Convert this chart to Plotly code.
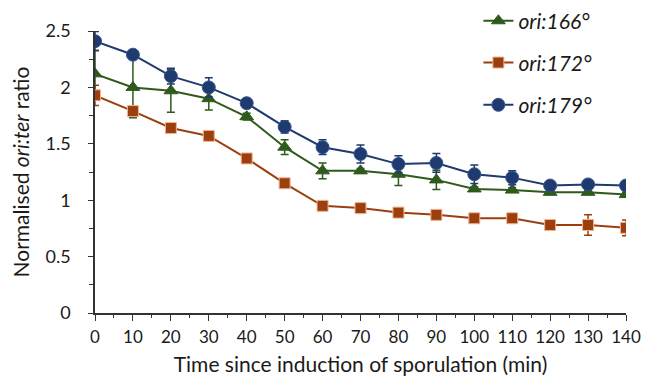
import plotly.graph_objects as go

time_min = [0, 10, 20, 30, 40, 50, 60, 70, 80, 90, 100, 110, 120, 130, 140]

ori166 = [2.12, 2.00, 1.97, 1.90, 1.74, 1.47, 1.26, 1.26, 1.23, 1.18, 1.10, 1.09, 1.07, 1.07, 1.05]
ori166_err = [0.21, 0.27, 0.19, 0.10, 0.03, 0.065, 0.07, 0.02, 0.10, 0.085, 0.02, 0.02, 0.02, 0.02, 0.02]

ori172 = [1.93, 1.79, 1.64, 1.57, 1.37, 1.15, 0.95, 0.93, 0.89, 0.87, 0.84, 0.84, 0.78, 0.78, 0.755]
ori172_err = [0.09, 0.02, 0.02, 0.02, 0.02, 0.02, 0.03, 0.02, 0.02, 0.02, 0.02, 0.02, 0.03, 0.09, 0.07]

ori179 = [2.41, 2.29, 2.10, 2.00, 1.86, 1.65, 1.47, 1.41, 1.32, 1.33, 1.23, 1.20, 1.13, 1.14, 1.13]
ori179_err = [0.085, 0.02, 0.07, 0.085, 0.04, 0.055, 0.065, 0.08, 0.075, 0.083, 0.083, 0.062, 0.02, 0.02, 0.02]

series_names = ["<i>ori:166°</i>", "<i>ori:172°</i>", "<i>ori:179°</i>"]
y_ticks = [0, 0.5, 1, 1.5, 2, 2.5]
y_tick_text = ["0", "0.5", "1", "1.5", "2", "2.5"]

GREEN = "#2f5a1d"
ORANGE = "#9c3f0f"
BLUE = "#1f3a6e"
FONT = "Lato"

fig = go.Figure()

specs = [
    (ori166, ori166_err, series_names[0], GREEN, "triangle-up", 12, GREEN, "legend", 1.035),
    (ori172, ori172_err, series_names[1], ORANGE, "square", 11, "#f2b48e", "legend2", 0.887),
    (ori179, ori179_err, series_names[2], BLUE, "circle", 13, "#34558f", "legend3", 0.737),
]

for vals, errs, name, col, sym, size, edge, leg, _ in specs:
    fig.add_trace(go.Scatter(
        x=time_min, y=vals, name=name, mode="lines+markers",
        line=dict(color=col, width=2),
        marker=dict(symbol=sym, size=size, color=col, line=dict(color=edge, width=1)),
        error_y=dict(type="data", array=errs, visible=True, color=col, thickness=1.5, width=4),
        legend=leg,
    ))

legend_common = dict(
    x=0.722, xanchor="left", yanchor="middle",
    font=dict(family=FONT, size=21, color="#1a1a1a"),
    bgcolor="rgba(0,0,0,0)", itemwidth=30,
)
layout_legends = {}
for _, _, _, _, _, _, _, leg, ypos in specs:
    layout_legends[leg] = dict(legend_common, y=ypos)

# the page body has an 8px margin, so margins are set to place the plot area correctly
fig.update_layout(
    width=650, height=371,
    margin=dict(l=87, r=32, t=23, b=66, autoexpand=False),
    paper_bgcolor="white", plot_bgcolor="white",
    showlegend=True,
    font=dict(family=FONT, color="#1a1a1a"),
    **layout_legends,
)

fig.update_xaxes(
    range=[0, 140], tickmode="array", tickvals=time_min,
    ticks="outside", ticklen=6, tickwidth=1.3, tickcolor="#333333",
    minor=dict(dtick=5, tick0=0, ticks="outside", ticklen=3, tickwidth=1.3, tickcolor="#333333"),
    showline=True, linecolor="#333333", linewidth=1.5,
    showgrid=False, zeroline=False,
    tickfont=dict(family=FONT, size=17, color="#1a1a1a"),
    ticklabeloverflow="allow",
    ticklabelstandoff=2,
    title=dict(text="Time since induction of sporulation (min)",
               font=dict(family=FONT, size=21, color="#1a1a1a"), standoff=11),
)
fig.update_yaxes(
    range=[0, 2.5], tickmode="array", tickvals=y_ticks, ticktext=y_tick_text,
    ticks="outside", ticklen=5, tickwidth=1.3, tickcolor="#333333",
    minor=dict(dtick=0.25, tick0=0, ticks="outside", ticklen=4, tickwidth=1.3, tickcolor="#333333"),
    showline=True, linecolor="#333333", linewidth=1.5,
    showgrid=False, zeroline=False,
    tickfont=dict(family=FONT, size=18, color="#1a1a1a"),
    ticklabelstandoff=14,
    title=dict(text="Normalised <i>ori:ter</i> ratio",
               font=dict(family=FONT, size=21, color="#1a1a1a"), standoff=10),
)

fig.write_html("out.html")
